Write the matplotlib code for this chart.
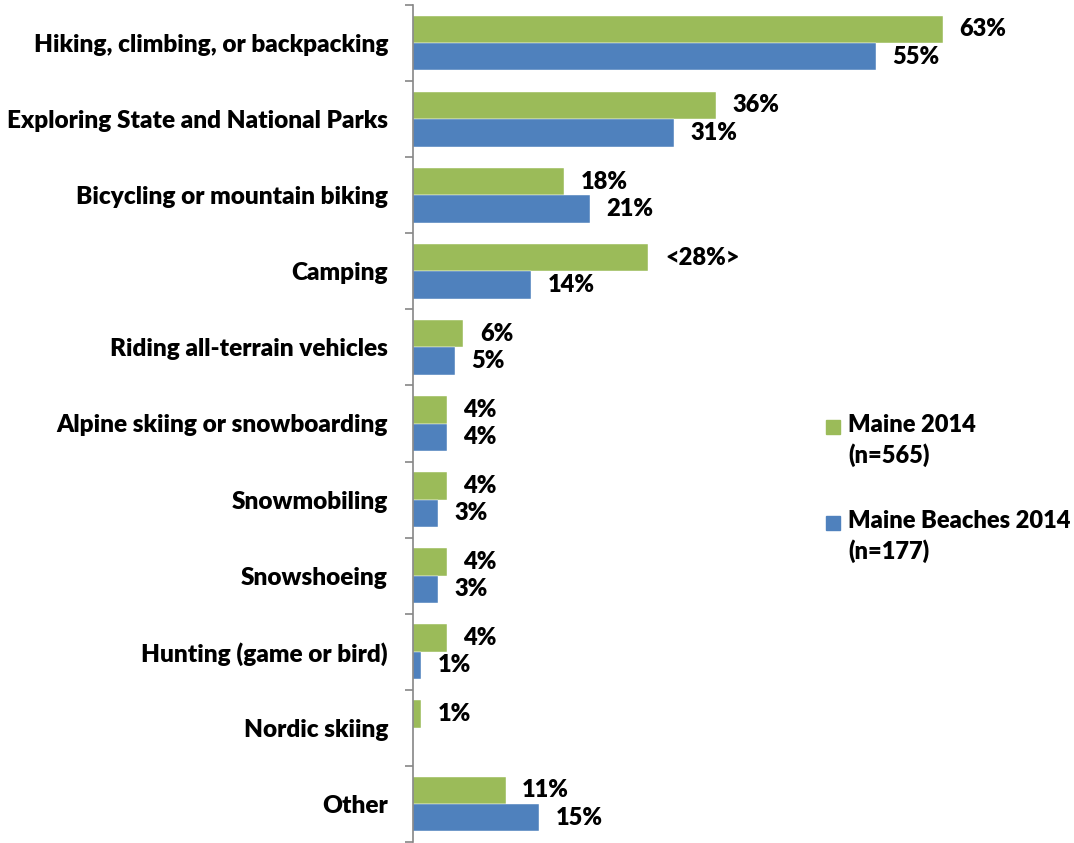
import matplotlib
matplotlib.use("Agg")
import matplotlib.pyplot as plt
from matplotlib.patches import Rectangle

plt.rcParams['font.family'] = ['Lato', 'DejaVu Sans']
plt.rcParams['font.weight'] = 'bold'

categories = [
    "Hiking, climbing, or backpacking",
    "Exploring State and National Parks",
    "Bicycling or mountain biking",
    "Camping",
    "Riding all-terrain vehicles",
    "Alpine skiing or snowboarding",
    "Snowmobiling",
    "Snowshoeing",
    "Hunting (game or bird)",
    "Nordic skiing",
    "Other",
]
maine_2014 = [63, 36, 18, 28, 6, 4, 4, 4, 4, 1, 11]
beaches_2014 = [55, 31, 21, 14, 5, 4, 3, 3, 1, 0, 15]
maine_labels = ["63%", "36%", "18%", "<28%>", "6%", "4%", "4%", "4%", "4%", "1%", "11%"]
beaches_labels = ["55%", "31%", "21%", "14%", "5%", "4%", "3%", "3%", "1%", "", "15%"]

series_names = ["Maine 2014\n(n=565)", "Maine Beaches 2014\n(n=177)"]
green = "#9BBB59"
blue = "#4F81BD"

W, H = 1074, 843
fig = plt.figure(figsize=(W / 100, H / 100), dpi=100)
ax_left, ax_right = 413 / W, (413 + 70 * 8.41) / W
ax_bottom, ax_top = 1 / H, 838 / H
ax = fig.add_axes([ax_left, ax_bottom, ax_right - ax_left, ax_top - ax_bottom])

n = len(categories)
bh = 0.36
ys = list(range(n))
ax.barh([y - bh / 2 for y in ys], maine_2014, height=bh, color=green, edgecolor='white', linewidth=0.3)
ax.barh([y + bh / 2 for y in ys], beaches_2014, height=bh, color=blue, edgecolor='white', linewidth=0.3)

ax.set_xlim(0, 70)
ax.set_ylim(n - 0.5, -0.5)

fs_cat = 17.6
fs_val = 17
fw = 'heavy'
for y, v, lab in zip(ys, maine_2014, maine_labels):
    if lab:
        ax.annotate(lab, (v, y - bh / 2), xytext=(12, 0), textcoords='offset points',
                    ha='left', va='center', fontsize=fs_val, fontweight=fw, color='black')
for y, v, lab in zip(ys, beaches_2014, beaches_labels):
    if lab:
        ax.annotate(lab, (v, y + bh / 2), xytext=(12, 0), textcoords='offset points',
                    ha='left', va='center', fontsize=fs_val, fontweight=fw, color='black')

# category labels on the left, ticks at group boundaries
ax.set_yticks([y + 0.5 for y in range(-1, n)])
ax.set_yticklabels([])
ax.set_yticks(ys, minor=True)
ax.set_yticklabels(categories, minor=True, fontsize=fs_cat, fontweight=fw)
ax.tick_params(axis='y', which='major', length=6, width=1.2, color='#868686', direction='out')
ax.tick_params(axis='y', which='minor', length=0, pad=18)
ax.set_xticks([])

for s in ['top', 'right', 'bottom']:
    ax.spines[s].set_visible(False)
ax.spines['left'].set_color('#868686')
ax.spines['left'].set_linewidth(1.2)

# legend
for (ypx, col, name) in [(421, green, series_names[0]), (517, blue, series_names[1])]:
    fig.patches.append(Rectangle((826 / W, 1 - (ypx + 13) / H), 14 / W, 14 / H,
                                 transform=fig.transFigure, color=col))
    fig.text(848 / W, 1 - (ypx - 7) / H, name, ha='left', va='top', fontsize=fs_val,
             fontweight=fw, linespacing=1.35)

fig.savefig("out.png", dpi=100)
